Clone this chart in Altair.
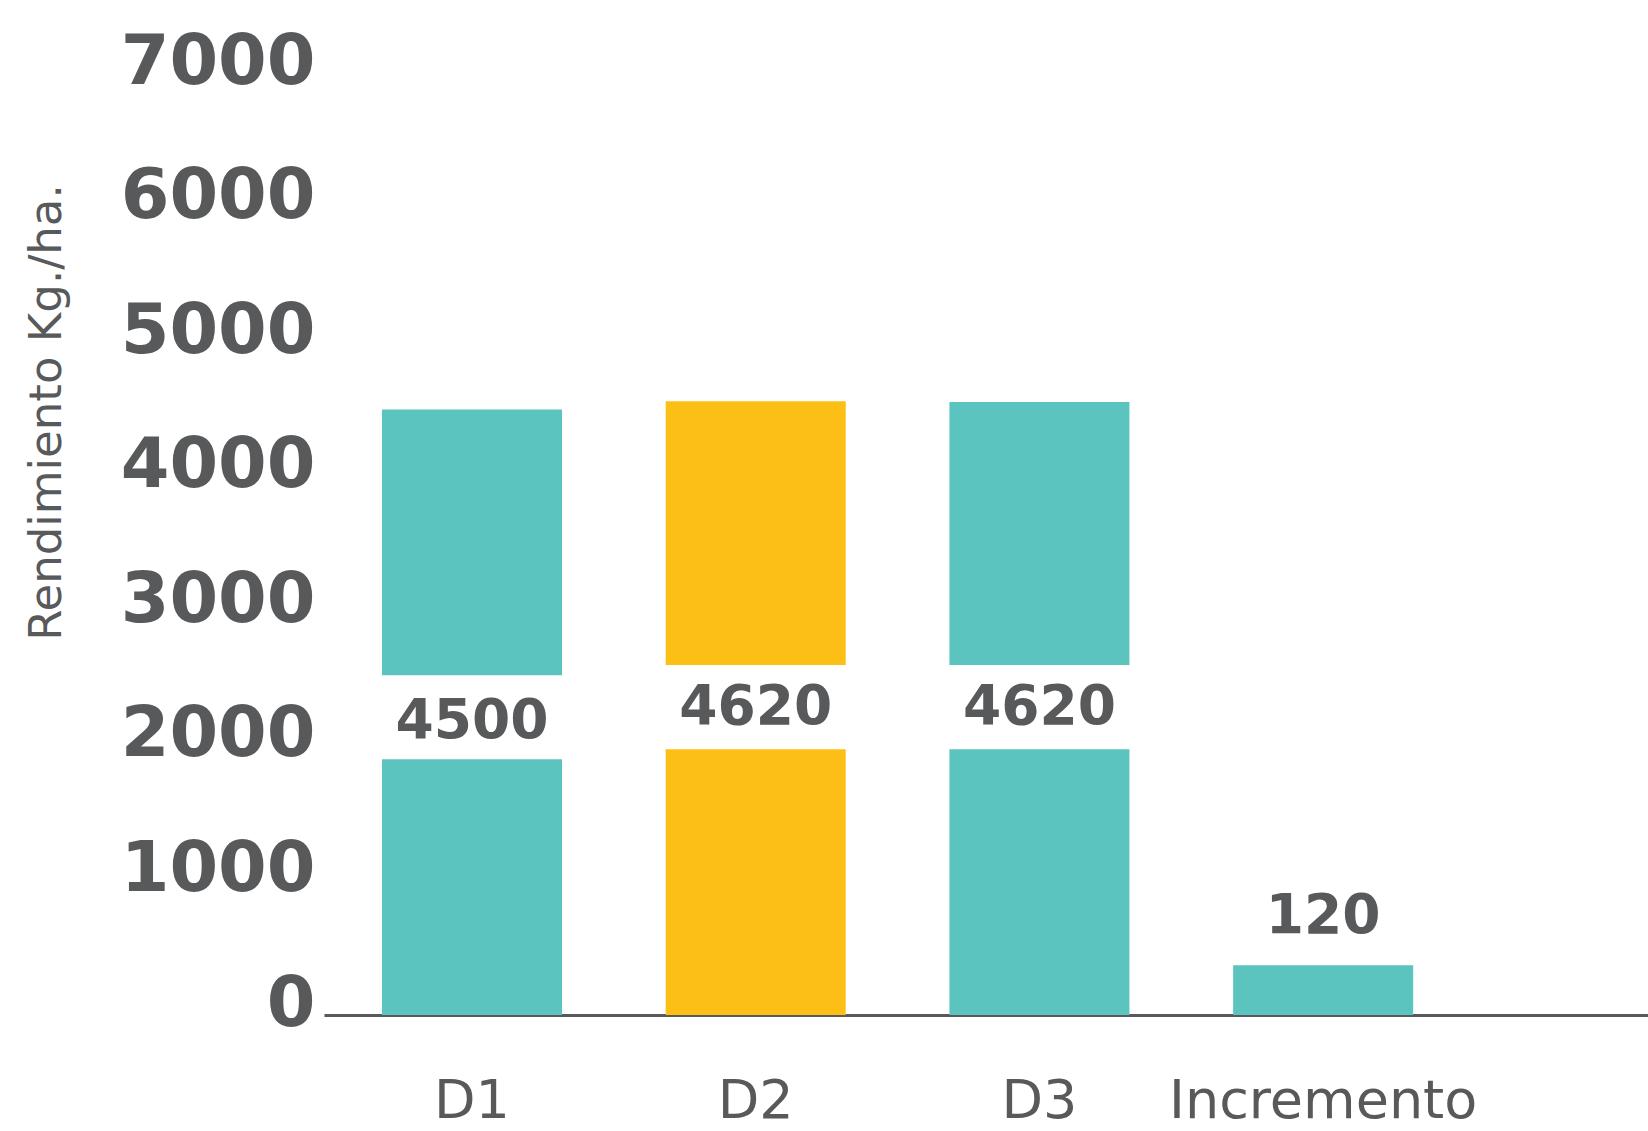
import altair as alt
import pandas as pd

# ---- data ----
categories = ["D1", "D2", "D3", "Incremento"]
bar_tops = [4500, 4560, 4555, 370]          # visible bar heights
gap_low = [1900, 1975, 1975, None]          # white gap (bottom) holding the label
gap_high = [2525, 2600, 2600, None]         # white gap (top)
label_text = ["4500", "4620", "4620", "120"]
label_pos = [2181, 2292, 2292, 732]
bar_colors = ["#5bc4bf", "#fcbf16", "#5bc4bf", "#5bc4bf"]
y_ticks = [0, 1000, 2000, 3000, 4000, 5000, 6000, 7000]

GRAY = "#58595b"

rows = []
for c, top, lo, hi in zip(categories, bar_tops, gap_low, gap_high):
    if lo is None:
        rows.append({"cat": c, "y0": 0, "y1": top})
    else:
        rows.append({"cat": c, "y0": 0, "y1": lo})
        rows.append({"cat": c, "y0": hi, "y1": top})
seg = pd.DataFrame(rows)
lab = pd.DataFrame({"cat": categories, "pos": label_pos, "txt": label_text})

xscale = alt.Scale(domain=categories, paddingInner=0.3655, paddingOuter=0.516, align=0.198)
yscale = alt.Scale(domain=[0, 7000], nice=False)

bars = alt.Chart(seg).mark_bar().encode(
    x=alt.X("cat:N", scale=xscale, sort=categories,
            axis=alt.Axis(title=None, labelAngle=0, ticks=False, tickSize=0,
                          domain=True, domainColor=GRAY, domainWidth=3,
                          labelFont="DejaVu Sans", labelFontSize=54, labelLimit=0,
                          labelColor=GRAY, labelPadding=59, labelFontWeight="normal")),
    y=alt.Y("y0:Q", scale=yscale,
            axis=alt.Axis(title="Rendimiento Kg./ha.", values=y_ticks, grid=False,
                          format="d", labelLimit=0,
                          ticks=False, tickSize=0, domain=False,
                          labelFont="DejaVu Sans", labelFontWeight="bold",
                          labelFontSize=70, labelColor=GRAY, labelPadding=9,
                          labelOffset=-11,
                          titleFont="DejaVu Sans", titleFontWeight="normal",
                          titleFontSize=45, titleColor=GRAY,
                          titleX=-264, titleY=339, titleAngle=270,
                          titleBaseline="alphabetic", titleAlign="center")),
    y2="y1:Q",
    color=alt.Color("cat:N", scale=alt.Scale(domain=categories, range=bar_colors), legend=None),
)

texts = alt.Chart(lab).mark_text(
    font="DejaVu Sans", fontWeight="bold", fontSize=55, color=GRAY, baseline="middle"
).encode(
    x=alt.X("cat:N", scale=xscale, sort=categories),
    y=alt.Y("pos:Q", scale=yscale),
    text="txt:N",
)

chart = alt.layer(bars, texts).properties(
    width=1324, height=942,
    padding={"left": 324, "top": 73, "right": 0, "bottom": 116},
    autosize=alt.AutoSizeParams(type="none"),
    background="white",
).configure_view(stroke=None)

chart.save("out.html", embed_options={"renderer": "svg", "actions": False})
